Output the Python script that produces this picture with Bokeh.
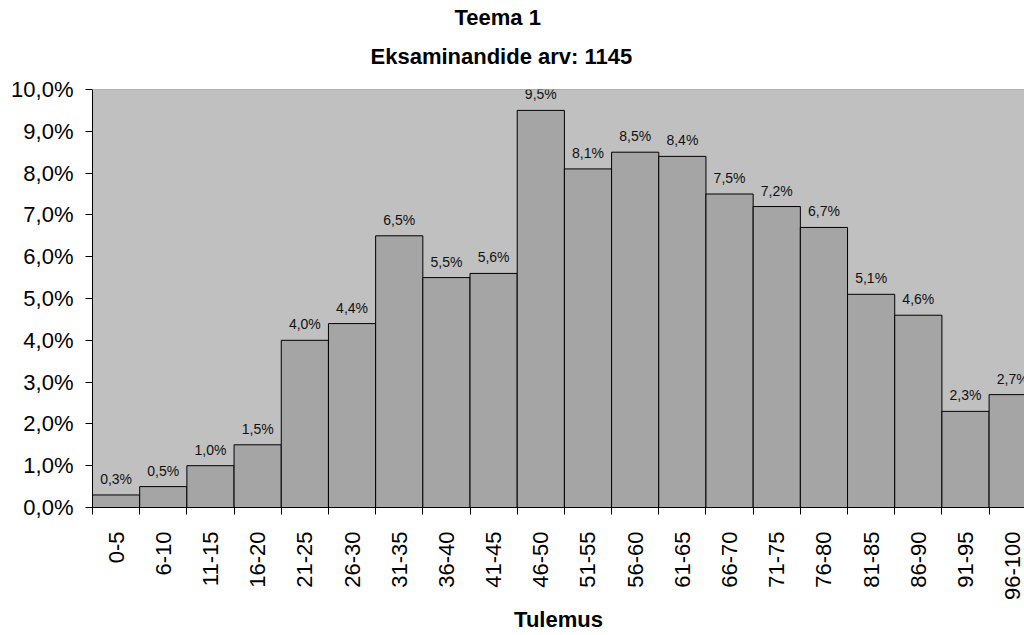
import math
from bokeh.plotting import figure
from bokeh.models import Range1d, FixedTicker, Span, ColumnDataSource, Title
from bokeh.core.properties import value
from bokeh.embed import file_html
from bokeh.resources import INLINE

categories = ["0-5", "6-10", "11-15", "16-20", "21-25", "26-30", "31-35", "36-40",
              "41-45", "46-50", "51-55", "56-60", "61-65", "66-70", "71-75", "76-80",
              "81-85", "86-90", "91-95", "96-100"]
percent = [0.3, 0.5, 1.0, 1.5, 4.0, 4.4, 6.5, 5.5, 5.6, 9.5, 8.1, 8.5, 8.4, 7.5,
           7.2, 6.7, 5.1, 4.6, 2.3, 2.7]
y_ticks = [0, 1, 2, 3, 4, 5, 6, 7, 8, 9, 10]
title_line1 = "Teema  1"
title_line2 = "Eksaminandide arv: 1145"
x_title = "Tulemus"

FONT = "Liberation Sans"

centers = [i + 0.5 for i in range(len(categories))]
labels = [f"{v:.1f}".replace(".", ",") + "%" for v in percent]
src = ColumnDataSource(dict(x=centers, top=percent, lab=labels))

p = figure(width=1024, height=635, output_backend="svg", toolbar_location=None,
           x_range=Range1d(0, 19.75), y_range=Range1d(0, 10),
           min_border_left=92, min_border_right=0, min_border_top=89,
           min_border_bottom=126)
p.background_fill_color = "#C0C0C0"
p.border_fill_color = "white"
p.outline_line_color = None
p.xgrid.visible = False
p.ygrid.visible = False

p.vbar(x="x", top="top", width=1.0, source=src, fill_color="#A5A5A5",
       line_color="black", line_width=1)
p.text(x="x", y="top", text="lab", source=src, text_align="center",
       text_baseline="bottom", y_offset=-8, text_font_size="14px",
       text_font=value(FONT), text_color="#111111")

p.add_layout(Span(location=10, dimension="width", line_color="#808080", line_width=1))

# y axis
ya = p.yaxis[0]
ya.ticker = FixedTicker(ticks=y_ticks)
ya.major_label_overrides = {t: f"{t},0%" for t in y_ticks}
ya.major_label_text_font = FONT
ya.major_label_text_font_size = "22px"
ya.major_label_text_color = "black"
ya.major_tick_out = 7
ya.major_tick_in = 0
ya.minor_tick_out = 0
ya.minor_tick_in = 0
ya.axis_line_color = "black"
ya.major_tick_line_color = "black"
ya.major_label_standoff = 12

# x axis
xa = p.xaxis[0]
xa.ticker = FixedTicker(ticks=centers, minor_ticks=list(range(len(categories) + 1)))
xa.major_label_overrides = {c: cat for c, cat in zip(centers, categories)}
xa.major_label_orientation = math.pi / 2
xa.major_label_text_font = FONT
xa.major_label_text_font_size = "22px"
xa.major_label_text_color = "black"
xa.major_tick_out = 7
xa.major_tick_in = 0
xa.major_tick_line_color = None
xa.minor_tick_out = 7
xa.minor_tick_in = 0
xa.minor_tick_line_color = "black"
xa.axis_line_color = "black"
xa.major_label_standoff = 17
xa.axis_label = x_title
xa.axis_label_text_font = FONT
xa.axis_label_text_font_size = "22px"
xa.axis_label_text_font_style = "bold"
xa.axis_label_text_color = "black"
xa.axis_label_standoff = 4

def spacer(standoff):
    return Title(text=" ", standoff=standoff, text_font_size="1px",
                 text_color="white", text_font=FONT)

def title_line(txt, offset):
    return Title(text=txt, align="left", offset=offset, standoff=0,
                 text_font=FONT, text_font_size="22px", text_font_style="bold",
                 text_color="black")

# stacked from the frame upward
p.add_layout(spacer(18), "above")
p.add_layout(title_line(title_line2, 278), "above")
p.add_layout(spacer(9), "above")
p.add_layout(title_line(title_line1, 362), "above")

open("out.html", "w").write(file_html(p, INLINE))
